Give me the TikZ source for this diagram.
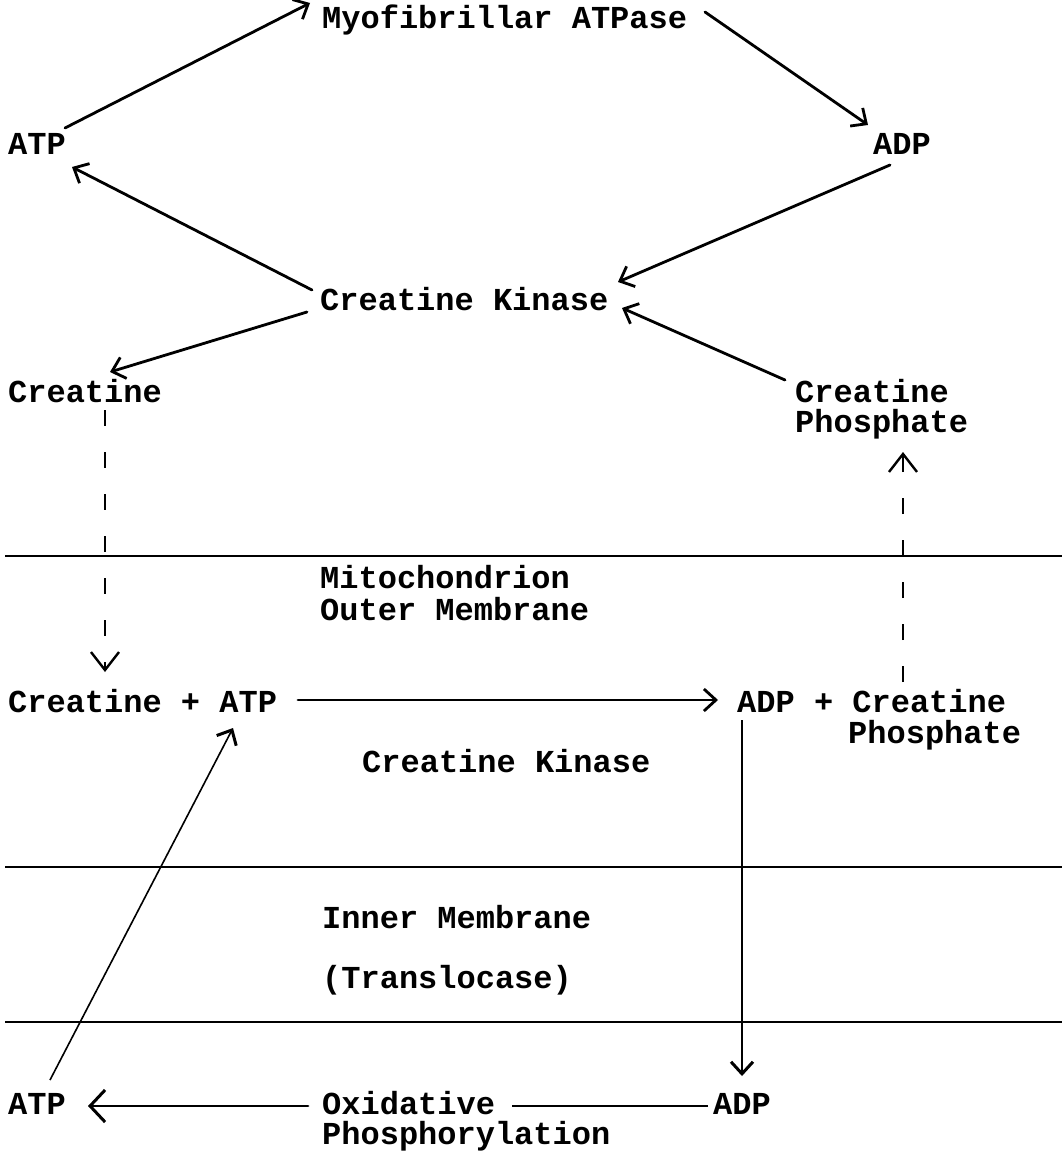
\documentclass[tikz,border=0pt]{standalone}
\usepackage{fontspec}
\setmainfont{Liberation Mono}[BoldFont={Liberation Mono Bold}]
\usetikzlibrary{arrows.meta}
\begin{document}
\begin{tikzpicture}[x=1pt,y=-1pt,
  lbl/.style={anchor=base west,inner sep=0pt,font=\fontsize{32}{36}\selectfont\bfseries},
  thick arrow/.style={line width=2.8pt,line cap=round,-{Straight Barb[length=12pt,width=22pt,line width=2.8pt]}},
  big arrow/.style={line width=2.8pt,line cap=round,-{Straight Barb[length=15pt,width=32pt,line width=3pt]}},
  thin arrow/.style={line width=1.6pt,-{Straight Barb[length=12pt,width=22pt,line width=3pt]}},
  dash arrow/.style={line width=1.8pt,dash pattern=on 16pt off 26pt,-{Straight Barb[length=18pt,width=28pt,line width=2.4pt]}},
  sep/.style={line width=2.6pt}]
\useasboundingbox (0,0) rectangle (1062,1158);
% texts
\node[lbl] (myo) at (322,29) {Myofibrillar ATPase};
\node[lbl] (atpT) at (8,155) {ATP};
\node[lbl] (adpT) at (873,155) {ADP};
\node[lbl] (ckT) at (320,310) {Creatine Kinase};
\node[lbl] (cr) at (8,402) {Creatine};
\node[lbl] (cp1) at (795,402) {Creatine};
\node[lbl] (cp2) at (795,432) {Phosphate};
\node[lbl] (mito1) at (320,588) {Mitochondrion};
\node[lbl] (mito2) at (320,620) {Outer Membrane};
\node[lbl] (cratp) at (8,712) {Creatine + ATP};
\node[lbl] (adpcp1) at (737,712) {ADP + Creatine};
\node[lbl] (adpcp2) at (848,743) {Phosphate};
\node[lbl] (ckM) at (362,772) {Creatine Kinase};
\node[lbl] (inner) at (322,928) {Inner Membrane};
\node[lbl] (transl) at (322,988) {(Translocase)};
\node[lbl] (atpB) at (8,1114) {ATP};
\node[lbl] (ox1) at (322,1114) {Oxidative};
\node[lbl] (ox2) at (322,1144) {Phosphorylation};
\node[lbl] (adpB) at (713,1114) {ADP};
% membranes
\draw[sep] (5,556) -- (1062,556);
\draw[sep] (5,867) -- (1062,867);
\draw[sep] (5,1022) -- (1062,1022);
% cytosol cycle
\draw[thick arrow] ([shift={(57,-27)}]atpT.base west) -- ([shift={(-12,-26)}]myo.base west);
\draw[thick arrow] ([shift={(383,-17)}]myo.base west) -- ([shift={(-5,-30)}]adpT.base west);
\draw[thick arrow] ([shift={(17,10)}]adpT.base west) -- ([shift={(298,-28)}]ckT.base west);
\draw[thick arrow] ([shift={(-8,-20)}]ckT.base west) -- ([shift={(64,12)}]atpT.base west);
\draw[thick arrow] ([shift={(-13,2)}]ckT.base west) -- ([shift={(102,-30)}]cr.base west);
\draw[thick arrow] ([shift={(-10,-22)}]cp1.base west) -- ([shift={(302,-2)}]ckT.base west);
% dashed transport
\draw[dash arrow] ([shift={(97,8)}]cr.base west) -- ([shift={(97,-40)}]cratp.base west);
\draw[dash arrow] ([shift={(166,-30)}]adpcp1.base west) -- ([shift={(108,20)}]cp2.base west);
% mitochondrial reaction
\draw[thick arrow] ([shift={(290,-12)}]cratp.base west) -- ([shift={(-19,-12)}]adpcp1.base west);
\draw[thin arrow] ([shift={(5,8)}]adpcp1.base west) -- ([shift={(29,-38)}]adpB.base west);
\draw[thin arrow] ([shift={(42,-34)}]atpB.base west) -- ([shift={(225,16)}]cratp.base west);
\draw[big arrow] ([shift={(-14,-8)}]ox1.base west) -- ([shift={(80,-8)}]atpB.base west);
\draw[line width=2.8pt] ([shift={(-5,-8)}]adpB.base west) -- ([shift={(190,-8)}]ox1.base west);
\end{tikzpicture}
\end{document}
